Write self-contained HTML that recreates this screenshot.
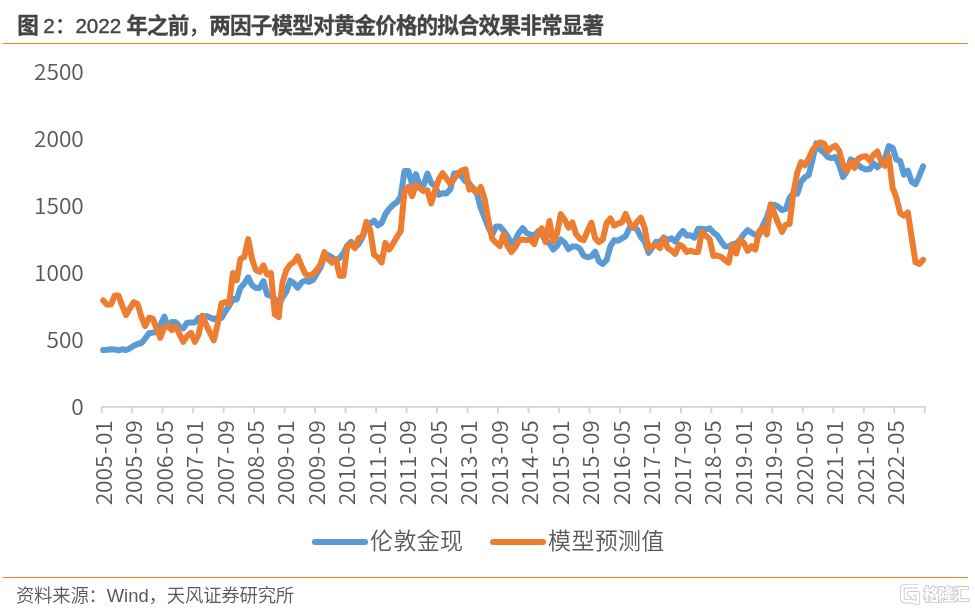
<!DOCTYPE html>
<html lang="zh">
<head>
<meta charset="utf-8">
<title>图 2：2022 年之前，两因子模型对黄金价格的拟合效果非常显著</title>
<style>
html,body{margin:0;padding:0;background:#fff;}
body{width:975px;height:611px;overflow:hidden;position:relative;font-family:"Liberation Sans","Noto Sans CJK SC",sans-serif;}
.title{position:absolute;left:17.3px;top:11px;font-size:21.6px;line-height:30px;font-weight:bold;color:#444;white-space:nowrap;letter-spacing:-0.86px;-webkit-text-stroke:0.3px #444;}
.title .p{font-weight:500;-webkit-text-stroke:0;}
.title .n{font-weight:normal;font-size:20.6px;letter-spacing:0;-webkit-text-stroke:0.4px #444;}
.rule{position:absolute;left:3px;width:964.6px;height:0;border-top:1.6px solid #f58220;}
.src{position:absolute;left:15.9px;top:579.5px;font-size:18.4px;line-height:28px;color:#595959;white-space:nowrap;font-family:"Noto Sans CJK SC","Liberation Sans",sans-serif;font-weight:350;letter-spacing:-0.22px;}
.src .w{font-family:"Liberation Sans","Noto Sans CJK SC",sans-serif;font-weight:normal;letter-spacing:0;}
svg{position:absolute;left:0;top:0;}
.ax{font-family:"Noto Sans CJK SC","Liberation Sans",sans-serif;font-weight:350;font-size:22.7px;fill:#595959;}
.lg{font-family:"Liberation Sans","Noto Sans CJK SC",sans-serif;font-weight:350;font-size:23px;fill:#595959;letter-spacing:0.3px;}
.wm{font-family:"Liberation Sans","Noto Sans CJK SC",sans-serif;font-size:16px;font-weight:bold;fill:#fff;letter-spacing:-1.3px;}
</style>
</head>
<body>
<div class="title">图 <span class="n">2</span><span class="p">：</span><span class="n">2022</span> 年之前<span class="p">，</span>两因子模型对黄金价格的拟合效果非常显著</div>
<div class="rule" style="top:42.8px"></div>
<svg width="975" height="611" viewBox="0 0 975 611">
<g>
<text transform="translate(83.8,414.70) scale(1,0.94)" text-anchor="end" class="ax">0</text>
<text transform="translate(83.8,347.80) scale(1,0.94)" text-anchor="end" class="ax">500</text>
<text transform="translate(83.8,280.90) scale(1,0.94)" text-anchor="end" class="ax">1000</text>
<text transform="translate(83.8,214.00) scale(1,0.94)" text-anchor="end" class="ax">1500</text>
<text transform="translate(83.8,147.10) scale(1,0.94)" text-anchor="end" class="ax">2000</text>
<text transform="translate(83.8,80.20) scale(1,0.94)" text-anchor="end" class="ax">2500</text>
</g>
<path d="M101,406.85 H926" stroke="#d4d4d4" stroke-width="1.9" fill="none"/>
<path d="M101.70,406 V413 M132.18,406 V413 M162.66,406 V413 M193.14,406 V413 M223.63,406 V413 M254.11,406 V413 M284.59,406 V413 M315.07,406 V413 M345.55,406 V413 M376.03,406 V413 M406.51,406 V413 M437.00,406 V413 M467.48,406 V413 M497.96,406 V413 M528.44,406 V413 M558.92,406 V413 M589.40,406 V413 M619.89,406 V413 M650.37,406 V413 M680.85,406 V413 M711.33,406 V413 M741.81,406 V413 M772.29,406 V413 M802.77,406 V413 M833.26,406 V413 M863.74,406 V413 M894.22,406 V413 M924.70,406 V413 " stroke="#d4d4d4" stroke-width="1.9" fill="none"/>
<g>
<text transform="translate(111.61,420.2) rotate(-90) scale(1,0.97)" text-anchor="end" class="ax xl">2005<tspan dx="1.3">-</tspan><tspan dx="1.3">01</tspan></text>
<text transform="translate(142.09,420.2) rotate(-90) scale(1,0.97)" text-anchor="end" class="ax xl">2005<tspan dx="1.3">-</tspan><tspan dx="1.3">09</tspan></text>
<text transform="translate(172.57,420.2) rotate(-90) scale(1,0.97)" text-anchor="end" class="ax xl">2006<tspan dx="1.3">-</tspan><tspan dx="1.3">05</tspan></text>
<text transform="translate(203.05,420.2) rotate(-90) scale(1,0.97)" text-anchor="end" class="ax xl">2007<tspan dx="1.3">-</tspan><tspan dx="1.3">01</tspan></text>
<text transform="translate(233.53,420.2) rotate(-90) scale(1,0.97)" text-anchor="end" class="ax xl">2007<tspan dx="1.3">-</tspan><tspan dx="1.3">09</tspan></text>
<text transform="translate(264.01,420.2) rotate(-90) scale(1,0.97)" text-anchor="end" class="ax xl">2008<tspan dx="1.3">-</tspan><tspan dx="1.3">05</tspan></text>
<text transform="translate(294.49,420.2) rotate(-90) scale(1,0.97)" text-anchor="end" class="ax xl">2009<tspan dx="1.3">-</tspan><tspan dx="1.3">01</tspan></text>
<text transform="translate(324.98,420.2) rotate(-90) scale(1,0.97)" text-anchor="end" class="ax xl">2009<tspan dx="1.3">-</tspan><tspan dx="1.3">09</tspan></text>
<text transform="translate(355.46,420.2) rotate(-90) scale(1,0.97)" text-anchor="end" class="ax xl">2010<tspan dx="1.3">-</tspan><tspan dx="1.3">05</tspan></text>
<text transform="translate(385.94,420.2) rotate(-90) scale(1,0.97)" text-anchor="end" class="ax xl">2011<tspan dx="1.3">-</tspan><tspan dx="1.3">01</tspan></text>
<text transform="translate(416.42,420.2) rotate(-90) scale(1,0.97)" text-anchor="end" class="ax xl">2011<tspan dx="1.3">-</tspan><tspan dx="1.3">09</tspan></text>
<text transform="translate(446.90,420.2) rotate(-90) scale(1,0.97)" text-anchor="end" class="ax xl">2012<tspan dx="1.3">-</tspan><tspan dx="1.3">05</tspan></text>
<text transform="translate(477.38,420.2) rotate(-90) scale(1,0.97)" text-anchor="end" class="ax xl">2013<tspan dx="1.3">-</tspan><tspan dx="1.3">01</tspan></text>
<text transform="translate(507.86,420.2) rotate(-90) scale(1,0.97)" text-anchor="end" class="ax xl">2013<tspan dx="1.3">-</tspan><tspan dx="1.3">09</tspan></text>
<text transform="translate(538.35,420.2) rotate(-90) scale(1,0.97)" text-anchor="end" class="ax xl">2014<tspan dx="1.3">-</tspan><tspan dx="1.3">05</tspan></text>
<text transform="translate(568.83,420.2) rotate(-90) scale(1,0.97)" text-anchor="end" class="ax xl">2015<tspan dx="1.3">-</tspan><tspan dx="1.3">01</tspan></text>
<text transform="translate(599.31,420.2) rotate(-90) scale(1,0.97)" text-anchor="end" class="ax xl">2015<tspan dx="1.3">-</tspan><tspan dx="1.3">09</tspan></text>
<text transform="translate(629.79,420.2) rotate(-90) scale(1,0.97)" text-anchor="end" class="ax xl">2016<tspan dx="1.3">-</tspan><tspan dx="1.3">05</tspan></text>
<text transform="translate(660.27,420.2) rotate(-90) scale(1,0.97)" text-anchor="end" class="ax xl">2017<tspan dx="1.3">-</tspan><tspan dx="1.3">01</tspan></text>
<text transform="translate(690.75,420.2) rotate(-90) scale(1,0.97)" text-anchor="end" class="ax xl">2017<tspan dx="1.3">-</tspan><tspan dx="1.3">09</tspan></text>
<text transform="translate(721.23,420.2) rotate(-90) scale(1,0.97)" text-anchor="end" class="ax xl">2018<tspan dx="1.3">-</tspan><tspan dx="1.3">05</tspan></text>
<text transform="translate(751.72,420.2) rotate(-90) scale(1,0.97)" text-anchor="end" class="ax xl">2019<tspan dx="1.3">-</tspan><tspan dx="1.3">01</tspan></text>
<text transform="translate(782.20,420.2) rotate(-90) scale(1,0.97)" text-anchor="end" class="ax xl">2019<tspan dx="1.3">-</tspan><tspan dx="1.3">09</tspan></text>
<text transform="translate(812.68,420.2) rotate(-90) scale(1,0.97)" text-anchor="end" class="ax xl">2020<tspan dx="1.3">-</tspan><tspan dx="1.3">05</tspan></text>
<text transform="translate(843.16,420.2) rotate(-90) scale(1,0.97)" text-anchor="end" class="ax xl">2021<tspan dx="1.3">-</tspan><tspan dx="1.3">01</tspan></text>
<text transform="translate(873.64,420.2) rotate(-90) scale(1,0.97)" text-anchor="end" class="ax xl">2021<tspan dx="1.3">-</tspan><tspan dx="1.3">09</tspan></text>
<text transform="translate(904.12,420.2) rotate(-90) scale(1,0.97)" text-anchor="end" class="ax xl">2022<tspan dx="1.3">-</tspan><tspan dx="1.3">05</tspan></text>
</g>
<path d="M103.2,350.1 L107.1,349.7 L110.9,349.2 L114.7,349.4 L118.5,350.4 L122.3,349.3 L126.1,350.1 L129.9,348.2 L133.8,345.8 L137.6,344.0 L141.4,343.0 L145.2,338.6 L149.0,333.3 L152.8,332.6 L156.6,332.3 L160.4,325.1 L164.3,316.5 L168.1,327.1 L171.9,322.0 L175.7,322.3 L179.5,326.8 L183.3,328.4 L187.1,322.8 L191.0,322.6 L194.8,322.4 L198.6,317.9 L202.4,319.2 L206.2,316.0 L210.0,317.6 L213.8,319.2 L217.6,317.9 L221.5,317.9 L225.3,311.5 L229.1,305.8 L232.9,299.0 L236.7,299.4 L240.5,287.8 L244.3,283.5 L248.2,277.3 L252.0,285.1 L255.8,287.9 L259.6,287.9 L263.4,281.1 L267.2,294.6 L271.0,295.8 L274.8,298.9 L278.7,305.0 L282.5,297.7 L286.3,291.9 L290.1,280.7 L293.9,283.2 L297.7,287.8 L301.5,282.5 L305.4,280.3 L309.2,281.9 L313.0,279.9 L316.8,273.5 L320.6,267.3 L324.4,256.1 L328.2,255.0 L332.0,257.3 L335.9,260.3 L339.7,257.9 L343.5,253.1 L347.3,245.6 L351.1,241.9 L354.9,247.2 L358.7,244.1 L362.6,236.8 L366.4,227.3 L370.2,223.5 L374.0,220.7 L377.8,225.4 L381.6,223.1 L385.4,214.2 L389.2,208.8 L393.1,204.8 L396.9,202.3 L400.7,196.4 L404.5,171.1 L408.3,171.0 L412.1,184.1 L415.9,174.2 L419.8,185.8 L423.6,185.3 L427.4,173.6 L431.2,182.9 L435.0,186.1 L438.8,194.6 L442.6,193.2 L446.4,193.6 L450.3,189.3 L454.1,173.4 L457.9,173.1 L461.7,176.4 L465.5,181.4 L469.3,183.4 L473.1,189.0 L477.0,193.7 L480.8,208.2 L484.6,217.7 L488.4,227.3 L492.2,234.8 L496.0,226.5 L499.8,226.4 L503.6,230.8 L507.5,236.1 L511.3,243.3 L515.1,240.4 L518.9,232.8 L522.7,228.1 L526.5,233.0 L530.3,234.5 L534.2,235.7 L538.0,231.4 L541.8,233.4 L545.6,241.1 L549.4,243.3 L553.2,249.5 L557.0,246.0 L560.8,239.5 L564.7,242.7 L568.5,249.1 L572.3,246.6 L576.1,246.4 L579.9,248.7 L583.7,255.7 L587.5,257.3 L591.4,256.3 L595.2,251.8 L599.0,261.5 L602.8,264.0 L606.6,260.1 L610.4,246.3 L614.2,240.1 L618.0,240.7 L621.9,238.4 L625.7,236.1 L629.5,228.0 L633.3,227.4 L637.1,229.4 L640.9,237.3 L644.7,241.5 L648.6,252.8 L652.4,247.4 L656.2,241.7 L660.0,242.1 L663.8,237.5 L667.6,240.1 L671.4,238.3 L675.2,241.5 L679.1,235.3 L682.9,230.9 L686.7,235.6 L690.5,235.3 L694.3,237.7 L698.1,228.8 L701.9,228.8 L705.8,229.6 L709.6,228.2 L713.4,232.5 L717.2,235.3 L721.0,241.2 L724.8,246.2 L728.6,246.6 L732.4,244.3 L736.3,243.5 L740.1,239.6 L743.9,234.0 L747.7,230.2 L751.5,232.8 L755.3,234.8 L759.1,235.1 L763.0,225.0 L766.8,217.8 L770.6,206.2 L774.4,204.7 L778.2,206.8 L782.0,210.2 L785.8,209.0 L789.6,198.0 L793.5,193.2 L797.3,193.8 L801.1,181.7 L804.9,177.2 L808.7,175.1 L812.5,159.7 L816.3,143.4 L820.2,149.7 L824.0,152.6 L827.8,157.2 L831.6,158.2 L835.4,157.0 L839.2,164.9 L843.0,177.0 L846.8,171.4 L850.7,159.3 L854.5,161.3 L858.3,165.1 L862.1,168.0 L865.9,169.4 L869.7,169.1 L873.5,163.3 L877.3,167.3 L881.2,163.9 L885.0,158.5 L888.8,146.2 L892.6,147.7 L896.4,159.5 L900.2,161.1 L904.0,174.6 L907.9,170.7 L911.7,181.7 L915.5,184.2 L919.3,175.9 L923.1,166.4" stroke="#5b9bd5" stroke-width="6" fill="none" stroke-linejoin="round" stroke-linecap="round"/>
<path d="M103.2,300.5 L107.1,304.6 L110.9,304.6 L114.7,295.6 L118.5,295.6 L122.3,305.8 L126.1,315.0 L129.9,308.3 L133.8,302.1 L137.6,304.0 L141.4,316.9 L145.2,326.1 L149.0,317.7 L152.8,318.7 L156.6,328.6 L160.4,337.8 L164.3,327.3 L168.1,325.9 L171.9,330.1 L175.7,326.7 L179.5,334.1 L183.3,341.9 L187.1,336.0 L191.0,332.9 L194.8,341.9 L198.6,334.7 L202.4,315.7 L206.2,324.9 L210.0,332.9 L213.8,340.3 L217.6,324.3 L221.5,303.3 L225.3,302.0 L229.1,304.0 L232.9,273.1 L236.7,280.3 L240.5,258.8 L244.3,256.8 L248.2,239.1 L252.0,258.8 L255.8,269.9 L259.6,271.9 L263.4,265.3 L267.2,274.5 L271.0,273.2 L274.8,314.5 L278.7,317.1 L282.5,282.3 L286.3,270.1 L290.1,264.6 L293.9,261.9 L297.7,256.5 L301.5,265.7 L305.4,273.9 L309.2,275.8 L313.0,273.9 L316.8,269.9 L320.6,264.0 L324.4,252.1 L328.2,259.3 L332.0,262.6 L335.9,259.3 L339.7,275.7 L343.5,275.7 L347.3,246.2 L351.1,244.2 L354.9,248.2 L358.7,238.3 L362.6,236.4 L366.4,221.9 L370.2,229.8 L374.0,254.7 L377.8,257.4 L381.6,262.6 L385.4,242.9 L389.2,249.5 L393.1,243.6 L396.9,237.0 L400.7,231.1 L404.5,190.9 L408.3,187.0 L412.1,196.2 L415.9,185.0 L419.8,188.3 L423.6,190.9 L427.4,190.3 L431.2,203.4 L435.0,190.9 L438.8,179.1 L442.6,173.2 L446.4,178.5 L450.3,183.7 L454.1,179.1 L457.9,173.9 L461.7,170.6 L465.5,169.3 L469.3,189.6 L473.1,187.7 L477.0,192.9 L480.8,187.0 L484.6,198.8 L488.4,220.4 L492.2,238.8 L496.0,242.8 L499.8,246.0 L503.6,234.3 L507.5,246.0 L511.3,252.0 L515.1,247.4 L518.9,240.8 L522.7,239.5 L526.5,240.1 L530.3,239.5 L534.2,244.1 L538.0,233.6 L541.8,228.3 L545.6,242.1 L549.4,221.0 L553.2,241.4 L557.0,233.6 L560.8,214.1 L564.7,219.8 L568.5,227.7 L572.3,222.4 L576.1,234.2 L579.9,238.8 L583.7,240.1 L587.5,230.9 L591.4,222.8 L595.2,238.2 L599.0,242.1 L602.8,239.5 L606.6,223.1 L610.4,218.5 L614.2,225.7 L618.0,223.7 L621.9,222.4 L625.7,213.9 L629.5,223.1 L633.3,227.7 L637.1,221.8 L640.9,217.8 L644.7,228.3 L648.6,249.3 L652.4,246.0 L656.2,244.7 L660.0,248.0 L663.8,238.2 L667.6,248.0 L671.4,250.6 L675.2,253.9 L679.1,244.7 L682.9,246.7 L686.7,252.0 L690.5,250.6 L694.3,252.0 L698.1,252.0 L701.9,231.9 L705.8,235.8 L709.6,239.1 L713.4,256.1 L717.2,255.5 L721.0,256.8 L724.8,260.1 L728.6,262.7 L732.4,245.0 L736.3,253.5 L740.1,239.7 L743.9,243.0 L747.7,250.9 L751.5,246.3 L755.3,249.6 L759.1,231.2 L763.0,227.9 L766.8,234.5 L770.6,204.3 L774.4,213.5 L778.2,223.3 L782.0,231.9 L785.8,224.6 L789.6,224.0 L793.5,192.2 L797.3,172.5 L801.1,162.0 L804.9,165.3 L808.7,158.7 L812.5,150.2 L816.3,144.9 L820.2,142.3 L824.0,143.6 L827.8,151.5 L831.6,147.6 L835.4,145.6 L839.2,150.8 L843.0,164.6 L846.8,171.2 L850.7,162.0 L854.5,167.9 L858.3,158.7 L862.1,156.8 L865.9,156.1 L869.7,160.7 L873.5,154.8 L877.3,151.5 L881.2,162.0 L885.0,165.9 L888.8,156.1 L892.6,187.9 L896.4,197.7 L900.2,213.2 L904.0,215.7 L907.9,212.4 L911.7,237.8 L915.5,262.3 L919.3,264.0 L923.1,259.9" stroke="#ed7d31" stroke-width="6" fill="none" stroke-linejoin="round" stroke-linecap="round"/>
<path d="M315,541.9 H365" stroke="#5b9bd5" stroke-width="6" stroke-linecap="round"/>
<text x="370.1" y="548.6" class="lg">伦敦金现</text>
<path d="M493,541.9 H543" stroke="#ed7d31" stroke-width="6" stroke-linecap="round"/>
<text x="548.1" y="548.6" class="lg">模型预测值</text>
<g stroke-linejoin="round">
<path d="M917.8,586.2 H905 Q902.4,586.2 902.4,588.8 V598.6 Q902.4,601.2 905,601.2 H912.6 L917.8,603 V593.4 H909.2 L913.4,597.6" fill="none" stroke="#cbcbcb" stroke-width="4.6"/>
<path d="M917.8,586.2 H905 Q902.4,586.2 902.4,588.8 V598.6 Q902.4,601.2 905,601.2 H912.6 L917.8,603 V593.4 H909.2 L913.4,597.6" fill="none" stroke="#fff" stroke-width="2.8"/>
<text x="923.6" y="600.4" class="wm" stroke="#cbcbcb" stroke-width="1.9" paint-order="stroke">格隆汇</text>
</g>
</svg>
<div class="rule" style="top:576.5px"></div>
<div class="src">资料来源：<span class="w">Wind</span>，天风证券研究所</div>
</body>
</html>
